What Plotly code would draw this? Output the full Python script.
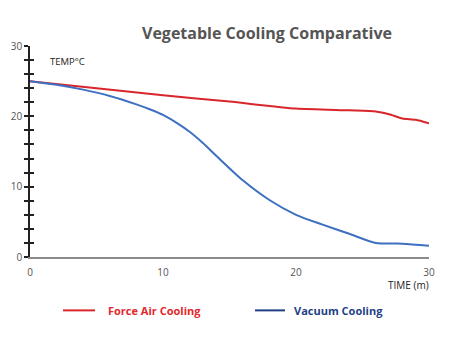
import plotly.graph_objects as go

# Cooling time in minutes and product temperature in °C
time_force_air = [0, 5, 10, 15, 20, 24, 26, 27, 28, 29, 30]
temp_force_air = [25, 24.0, 23.0, 22.1, 21.1, 20.85, 20.7, 20.3, 19.7, 19.5, 19.0]

time_vacuum = [0, 2, 4, 6, 8, 9, 10, 11, 12, 13, 14, 16, 18, 20, 22, 24, 26, 28, 30]
temp_vacuum = [25, 24.5, 23.8, 22.9, 21.7, 21.0, 20.2, 19.1, 17.8, 16.2, 14.4, 10.9, 8.1, 6.0, 4.6, 3.3, 2.0, 1.9, 1.6]

x_ticks = [0, 10, 20, 30]
y_ticks = [0, 10, 20, 30]

RED = "#D8262B"
BLUE = "#3D70C2"
LEGEND_RED = "#E3262B"
LEGEND_BLUE = "#1F3F86"
FONT = "Open Sans"

fig = go.Figure()
fig.add_trace(go.Scatter(x=time_force_air, y=temp_force_air, mode="lines",
                         line=dict(color=RED, width=2, shape="spline", smoothing=0.6),
                         name="Force Air Cooling", showlegend=False))
fig.add_trace(go.Scatter(x=time_vacuum, y=temp_vacuum, mode="lines",
                         line=dict(color=BLUE, width=2, shape="spline", smoothing=0.7),
                         name="Vacuum Cooling", showlegend=False))
# invisible trace to carry the inner tick axis
fig.add_trace(go.Scatter(x=[0], y=[0], yaxis="y2", mode="markers",
                         marker=dict(opacity=0), showlegend=False, hoverinfo="skip"))

fig.update_layout(
    width=460, height=345,
    margin=dict(l=30, r=31, t=46, b=87.5),
    paper_bgcolor="white", plot_bgcolor="white",
    font=dict(family=FONT, color="#555555", size=10),
    showlegend=False,
    xaxis=dict(range=[0, 30], tickvals=x_ticks, showgrid=False, zeroline=False,
               showline=True, linecolor="#8C8C8C", linewidth=2,
               ticks="outside", ticklen=5, tickcolor="rgba(0,0,0,0)",
               tickfont=dict(size=10, color="#555555")),
    yaxis=dict(range=[0, 30], tickvals=y_ticks, showgrid=False, zeroline=False,
               showline=True, linecolor="#222222", linewidth=1.5,
               ticks="outside", ticklen=4, tickcolor="#222222", tickwidth=1.5,
               minor=dict(dtick=2, ticks="outside", ticklen=4, tickcolor="#222222", tickwidth=1.5),
               tickfont=dict(size=10, color="#555555")),
    yaxis2=dict(range=[0, 30], overlaying="y", side="left", tickvals=y_ticks,
                showgrid=False, zeroline=False, showline=False, showticklabels=False,
                ticks="inside", ticklen=4, tickcolor="#222222", tickwidth=1.5,
                minor=dict(dtick=2, ticks="inside", ticklen=4, tickcolor="#222222", tickwidth=1.5)),
)

fig.add_annotation(text="<b>Vegetable Cooling Comparative</b>", xref="paper", yref="paper",
                   x=(266.5 - 30) / 399, y=(257.5 - 33) / 211.5, xanchor="center", yanchor="middle",
                   showarrow=False, font=dict(family=FONT, size=16, color="#555555"))
fig.add_annotation(text="TEMP°C", xref="paper", yref="paper",
                   x=(48 - 30) / 399, y=(257.5 - 62) / 211.5, xanchor="left", yanchor="middle",
                   showarrow=False, font=dict(family=FONT, size=9.5, color="#222222"))
fig.add_annotation(text="TIME (m)", xref="paper", yref="paper",
                   x=(431 - 30) / 399, y=(257.5 - 286) / 211.5, xanchor="right", yanchor="middle",
                   showarrow=False, font=dict(family=FONT, size=10, color="#222222"))

# legend drawn below the plot
legend_y = (257.5 - 311) / 211.5
for x0, x1, tx, label, lc, tc in [
    (63, 95, 106, "Force Air Cooling", RED, LEGEND_RED),
    (255, 285, 292, "Vacuum Cooling", LEGEND_BLUE, LEGEND_BLUE),
]:
    fig.add_shape(type="line", xref="paper", yref="paper",
                  x0=(x0 - 30) / 399, x1=(x1 - 30) / 399, y0=legend_y, y1=legend_y,
                  line=dict(color=lc, width=2))
    fig.add_annotation(text="<b>" + label + "</b>", xref="paper", yref="paper",
                       x=(tx - 30) / 399, y=legend_y, xanchor="left", yanchor="middle",
                       showarrow=False, font=dict(family=FONT, size=11, color=tc))

fig.write_html("out.html")
